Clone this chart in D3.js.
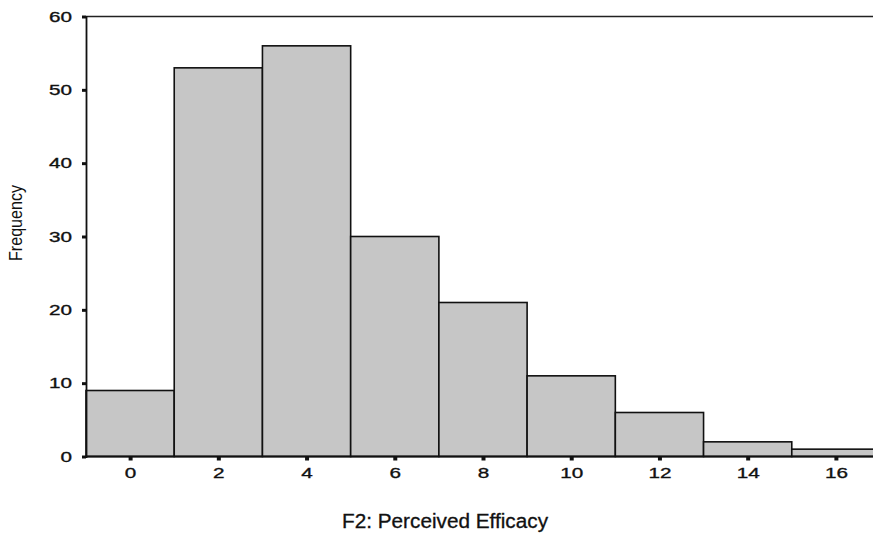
<!DOCTYPE html>
<html>
<head>
<meta charset="utf-8">
<script src="https://cdn.jsdelivr.net/npm/d3@7"></script>
<style>
  body { margin: 0; background: #fff; }
  text { font-family: "Liberation Sans", Arial, sans-serif; fill: #111; }
  .tick text { font-size: 15px; stroke: #111; stroke-width: 0.35; }
</style>
</head>
<body>
<div class="chart"></div>
<script>
var width = 873,
    height = 534;

// histogram bins (centres) and their counts
var binCenters = [0, 2, 4, 6, 8, 10, 12, 14, 16],
    counts = [9, 53, 56, 30, 21, 11, 6, 2, 1],
    xTicks = [0, 2, 4, 6, 8, 10, 12, 14, 16],
    yTicks = [0, 10, 20, 30, 40, 50, 60];

var binWidth = 2;

var x = d3.scaleLinear().domain([-1, 17]).range([86, 880]),
    y = d3.scaleLinear().domain([0, 60]).range([456.5, 16.5]);

var svg = d3.select(".chart").append("svg")
    .attr("width", width)
    .attr("height", height);

// wide lettering of the scanned original
function widen(sel) {
  sel.attr("textLength", function() { return this.textContent.length * 11.5; })
     .attr("lengthAdjust", "spacingAndGlyphs");
}

// bars
svg.append("g").selectAll("rect")
    .data(binCenters)
  .enter().append("rect")
    .attr("x", function(d) { return x(d - binWidth / 2); })
    .attr("y", function(d, i) { return y(counts[i]); })
    .attr("width", function(d) { return x(d + binWidth / 2) - x(d - binWidth / 2); })
    .attr("height", function(d, i) { return y(0) - y(counts[i]); })
    .attr("fill", "#c6c6c6")
    .attr("stroke", "#111")
    .attr("stroke-width", 1.6);

// frame: top line
svg.append("line")
    .attr("x1", x(-1)).attr("x2", width)
    .attr("y1", y(60)).attr("y2", y(60))
    .attr("stroke", "#222").attr("stroke-width", 1.6);

// y axis
var yAxis = svg.append("g")
    .attr("transform", "translate(" + x(-1) + ",0)")
    .call(d3.axisLeft(y).tickValues(yTicks).tickSize(4).tickPadding(10));
yAxis.select(".domain").attr("stroke", "#111").attr("stroke-width", 1.8);
yAxis.selectAll(".tick line").attr("stroke", "#111").attr("stroke-width", 3);
yAxis.selectAll(".tick text").call(widen);

// x axis
var xAxis = svg.append("g")
    .attr("transform", "translate(0," + y(0) + ")")
    .call(d3.axisBottom(x).tickValues(xTicks).tickSize(4).tickPadding(7));
xAxis.select(".domain").attr("stroke", "#111").attr("stroke-width", 1.8)
    .attr("d", "M" + x(-1) + ",0H" + width);
xAxis.selectAll(".tick line").attr("stroke", "#111").attr("stroke-width", 4);
xAxis.selectAll(".tick text").call(widen);

// axis titles
svg.append("text")
    .attr("x", 445)
    .attr("y", 528)
    .attr("text-anchor", "middle")
    .attr("textLength", 206)
    .attr("lengthAdjust", "spacingAndGlyphs")
    .style("font-size", "19.5px")
    .style("stroke", "#111")
    .style("stroke-width", 0.3)
    .text("F2: Perceived Efficacy");

svg.append("text")
    .attr("transform", "translate(22,223)rotate(-90)")
    .attr("text-anchor", "middle")
    .attr("textLength", 76)
    .attr("lengthAdjust", "spacingAndGlyphs")
    .style("font-size", "18px")
    .text("Frequency");
</script>
</body>
</html>
